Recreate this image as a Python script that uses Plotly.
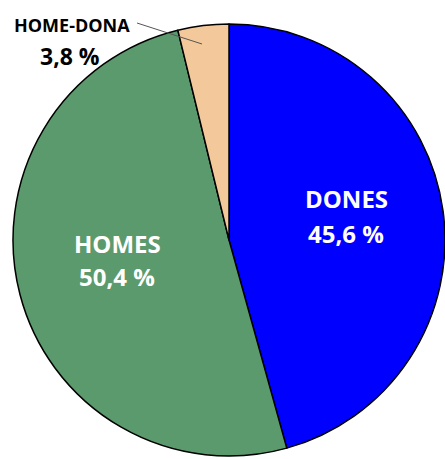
import plotly.graph_objects as go

# Share of people by group
labels = ["DONES", "HOMES", "HOME-DONA"]
shares = [45.6, 50.4, 3.8]
colors = ["#0000FF", "#5B9A6C", "#F3C99B"]
text_colors = ["white", "white", "black"]

W, H = 445, 459


def px(x):
    return x / W


def py(y):
    return 1 - y / H


def fmt(v):
    return f"{v:.1f}".replace(".", ",") + " %"


fig = go.Figure(
    go.Pie(
        labels=labels,
        values=shares,
        sort=False,
        direction="clockwise",
        rotation=0,
        marker=dict(colors=colors, line=dict(color="black", width=1.5)),
        textinfo="none",
        hoverinfo="label+percent",
        showlegend=False,
        domain=dict(x=[px(13), px(445)], y=[py(456), py(24)]),
    )
)

FONT = "Open Sans"

# label placement: (x, y name line, y value line, name size, value size)
placement = {
    "DONES": (346, 199, 233, 24, 24),
    "HOMES": (117, 243, 276, 24, 24),
    "HOME-DONA": (72, 25, 56, 18, 23),
}

annotations = []
for lab, val, tc in zip(labels, shares, text_colors):
    x, y1, y2, s1, s2 = placement[lab]
    annotations.append(dict(
        x=px(x), y=py(y1), xref="paper", yref="paper", text=f"<b>{lab}</b>",
        showarrow=False, xanchor="center", yanchor="middle",
        font=dict(family=FONT, size=s1, color=tc),
    ))
    annotations.append(dict(
        x=px(x - 2 if lab == "HOME-DONA" else x), y=py(y2), xref="paper", yref="paper",
        text=f"<b>{fmt(val)}</b>",
        showarrow=False, xanchor="center", yanchor="middle",
        font=dict(family=FONT, size=s2, color=tc),
    ))

fig.update_layout(
    width=W,
    height=H,
    margin=dict(l=0, r=0, t=0, b=0),
    paper_bgcolor="white",
    plot_bgcolor="white",
    annotations=annotations,
    shapes=[dict(
        type="line", xref="paper", yref="paper",
        x0=px(137), y0=py(23), x1=px(202), y1=py(44),
        line=dict(color="#555555", width=1),
    )],
)

fig.write_html("out.html")
